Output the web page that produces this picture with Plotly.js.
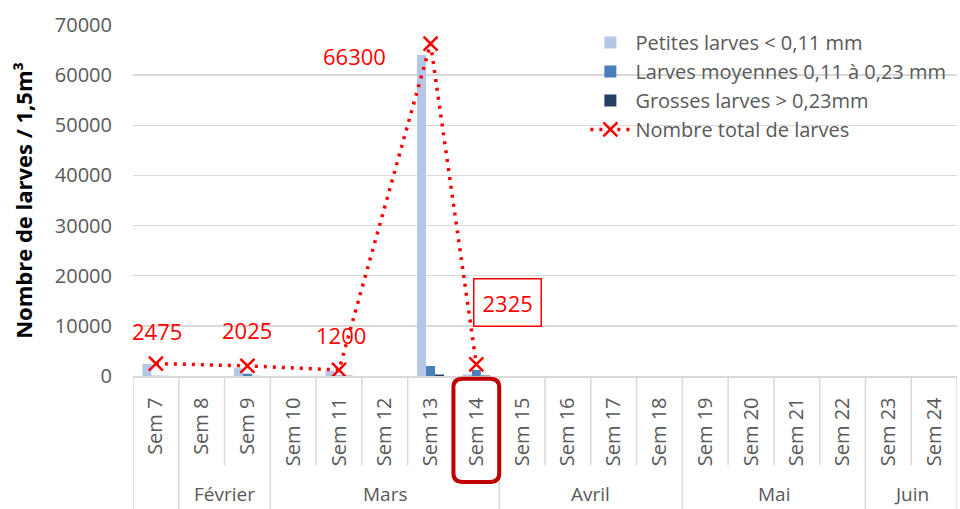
<!DOCTYPE html>
<html>
<head>
<meta charset="utf-8">
<script src="https://cdn.plot.ly/plotly-3.0.1.min.js"></script>
<style>html,body{margin:0;padding:0;background:#fff}#chart{width:960px;height:509px}</style>
</head>
<body>
<div id="chart"></div>
<script>
// ---- data ----
var weeks = ["Sem 7","Sem 8","Sem 9","Sem 10","Sem 11","Sem 12","Sem 13","Sem 14","Sem 15","Sem 16","Sem 17","Sem 18","Sem 19","Sem 20","Sem 21","Sem 22","Sem 23","Sem 24"];
var petites  = [2400, null, 1550, null, 1050, null, 64000, 300, null, null, null, null, null, null, null, null, null, null];
var moyennes = [50,   null, 450,  null, 100,  null, 2000,  1200, null, null, null, null, null, null, null, null, null, null];
var grosses  = [25,   null, 25,   null, 50,   null, 300,   100,  null, null, null, null, null, null, null, null, null, null];
var totalWeeks = ["Sem 7","Sem 9","Sem 11","Sem 13","Sem 14"];
var totals     = [2475, 2025, 1200, 66300, 2325];
var months = ["", "Février", "Mars", "Avril", "Mai", "Juin"];
var monthFirst = [0, 1, 3, 8, 12, 16];   // index of first week of each month group
var monthLast  = [0, 2, 7, 11, 15, 17];
var seriesNames = ["Petites larves < 0,11 mm", "Larves moyennes 0,11 à 0,23 mm", "Grosses larves > 0,23mm", "Nombre total de larves"];

// ---- styles ----
var FONT = "Open Sans, Liberation Sans, sans-serif";
var GRAY = "#595959";
var GRID = "#D9D9D9";
var RED = "#FF0000";

var traces = [
  {type:"bar", name:seriesNames[0], x:weeks, y:petites,  marker:{color:"#B4C7E7"}},
  {type:"bar", name:seriesNames[1], x:weeks, y:moyennes, marker:{color:"#4A7EBB"}},
  {type:"bar", name:seriesNames[2], x:weeks, y:grosses,  marker:{color:"#243F60"}},
  {type:"scatter", mode:"lines+markers", name:seriesNames[3], x:totalWeeks, y:totals,
   line:{color:RED, width:3.5, dash:"3px,6px"},
   marker:{symbol:"x-thin", size:14, color:RED, line:{color:RED, width:2.5}}}
];

// label offsets (style)
var labelShift = {
  "Sem 7":  {xs:1,  ys:33},
  "Sem 9":  {xs:0,  ys:36},
  "Sem 11": {xs:2,  ys:35},
  "Sem 13": {xs:-76, ys:-12},
  "Sem 14": {xs:31, ys:62}
};
var annotations = totalWeeks.map(function(w, i){
  var a = {x:w, y:totals[i], xref:"x", yref:"y", text:String(totals[i]), showarrow:false,
    xshift:labelShift[w].xs, yshift:labelShift[w].ys,
    font:{family:FONT, size:22, color:RED}};
  if (w === "Sem 14") { a.bordercolor = RED; a.borderwidth = 1.5; a.borderpad = 8; a.bgcolor = "#fff"; }
  return a;
});
months.forEach(function(m, i){
  if (!m) return;
  annotations.push({x:(monthFirst[i] + monthLast[i]) / 2, y:-0.337, xref:"x", yref:"paper",
    text:m, showarrow:false, yanchor:"middle", font:{family:FONT, size:19, color:GRAY}});
});

var shapes = [];
var monthBounds = {};
monthFirst.forEach(function(f){ monthBounds[f - 0.5] = true; });
monthBounds[weeks.length - 0.5] = true;
for (var k = 0; k <= weeks.length; k++) {
  var xb = k - 0.5;
  shapes.push({type:"line", xref:"x", yref:"paper", x0:xb, x1:xb, y0:0,
    y1: monthBounds[xb] ? -0.38 : -0.254, line:{color:GRID, width:1.5}, layer:"below"});
}
// rounded highlight around Sem 14 tick label
(function(){
  var c = weeks.indexOf("Sem 14");
  var x0 = c - 0.5, x1 = c + 0.5, y0 = -0.008, y1 = -0.302;
  var rx = 0.2, ry = 0.025;
  var p = "M" + (x0+rx) + "," + y0 + " L" + (x1-rx) + "," + y0 +
          " Q" + x1 + "," + y0 + " " + x1 + "," + (y0-ry) +
          " L" + x1 + "," + (y1+ry) +
          " Q" + x1 + "," + y1 + " " + (x1-rx) + "," + y1 +
          " L" + (x0+rx) + "," + y1 +
          " Q" + x0 + "," + y1 + " " + x0 + "," + (y1+ry) +
          " L" + x0 + "," + (y0-ry) +
          " Q" + x0 + "," + y0 + " " + (x0+rx) + "," + y0 + " Z";
  shapes.push({type:"path", xref:"x", yref:"paper", path:p, line:{color:"#C00000", width:4}});
})();

var layout = {
  width:960, height:509,
  margin:{l:133, r:3, t:25, b:133, pad:0},
  paper_bgcolor:"#fff", plot_bgcolor:"#fff",
  barmode:"group", bargap:0.41, bargroupgap:0,
  font:{family:FONT, color:GRAY},
  showlegend:true,
  legend:{x:0.549, y:1.006, xanchor:"left", yanchor:"top", bgcolor:"rgba(0,0,0,0)",
    traceorder:"normal", font:{family:FONT, size:20, color:GRAY}, tracegroupgap:0, itemwidth:40},
  xaxis:{type:"category", categoryorder:"array", categoryarray:weeks, range:[-0.5, weeks.length-0.5],
    tickangle:-90, tickfont:{family:FONT, size:20, color:GRAY}, ticks:"", showgrid:false,
    showline:true, linecolor:GRID, linewidth:1.5, ticklabelstandoff:12, fixedrange:true},
  yaxis:{range:[0,70000], dtick:10000, tickformat:"d", showgrid:true, gridcolor:GRID, gridwidth:1.5,
    zeroline:false, showline:false, ticks:"", tickfont:{family:FONT, size:20, color:GRAY},
    ticklabelstandoff:20, fixedrange:true,
    title:{text:"<b>Nombre de larves / 1,5m³</b>", font:{family:FONT, size:22, color:"#000"}, standoff:16}},
  annotations:annotations,
  shapes:shapes
};

Plotly.newPlot("chart", traces, layout, {displayModeBar:false, staticPlot:true});
</script>
</body>
</html>
